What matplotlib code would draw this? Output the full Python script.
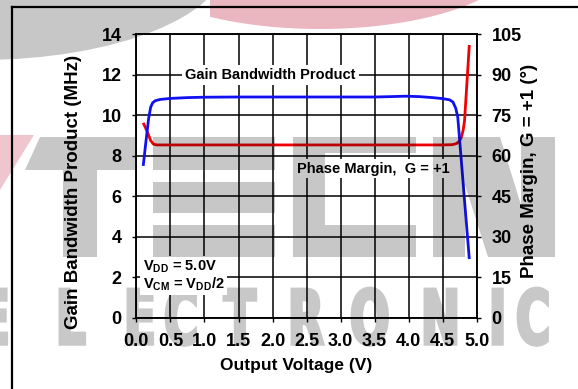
import numpy as np
import matplotlib
matplotlib.use("Agg")
import matplotlib.pyplot as plt
from matplotlib.path import Path
from matplotlib.patches import PathPatch, Polygon
from matplotlib.textpath import TextPath
from matplotlib.font_manager import FontProperties
from matplotlib.transforms import Affine2D
from matplotlib.lines import Line2D

# Gain bandwidth product vs output voltage (left axis, MHz)
vout_gbp = [0.10, 0.14, 0.18, 0.21, 0.24, 0.28, 0.35, 0.50, 0.75, 1.00, 1.50, 2.00,
            2.50, 3.00, 3.50, 3.75, 3.95, 4.15, 4.35, 4.50, 4.60, 4.65, 4.69, 4.72, 4.89]
gbp = [7.5, 8.7, 9.85, 10.4, 10.62, 10.72, 10.78, 10.83, 10.87, 10.89, 10.9, 10.9,
       10.9, 10.9, 10.9, 10.92, 10.94, 10.92, 10.87, 10.82, 10.76, 10.65, 10.35, 9.92, 2.9]

# Phase margin at G = +1 vs output voltage (right axis, degrees)
vout_pm = [0.10, 0.14, 0.18, 0.21, 0.25, 0.30, 0.50, 1.00, 2.00, 3.00, 4.00, 4.50,
           4.64, 4.70, 4.74, 4.77, 4.80, 4.82, 4.89]
phase = [72.2, 70.0, 67.6, 65.6, 64.3, 64.0, 64.0, 64.0, 64.0, 64.0, 64.0, 64.0,
         64.1, 64.5, 65.3, 66.6, 69.5, 73.0, 101.0]

x_ticks = np.arange(0, 5.01, 0.5)
gbp_ticks = np.arange(0, 15, 2)
pm_ticks = np.arange(0, 106, 15)

plt.rcParams["font.family"] = ["Liberation Sans", "DejaVu Sans"]
plt.rcParams["font.weight"] = "bold"
plt.rcParams["axes.labelweight"] = "bold"
plt.rcParams["mathtext.fontset"] = "custom"
plt.rcParams["mathtext.rm"] = "Liberation Sans:bold"
plt.rcParams["mathtext.bf"] = "Liberation Sans:bold"

W, H = 578, 389
fig = plt.figure(figsize=(W / 100, H / 100), dpi=100)
# pixel space, origin top-left
px = Affine2D().scale(1 / W, -1 / H).translate(0, 1) + fig.transFigure

# --- logo watermark: pink parts and lettering sit behind the chart ---
cx, cy, a, b = 320, -45, 200, 74
xs = np.linspace(210, 490, 80)
ys = cy + b * np.sqrt(np.clip(1 - ((xs - cx) / a) ** 2, 0, None))
swoosh = [(210, -5)] + list(zip(xs, ys)) + [(490, -5)]
fig.add_artist(Polygon(swoosh, closed=True, transform=px, facecolor="#eab6c0",
                       edgecolor="none", zorder=-2))
fig.add_artist(Polygon([(0, 135), (34, 135), (0, 190)], closed=True, transform=px,
                       facecolor="#f0c6ce", edgecolor="none", zorder=-2))

logo_font = FontProperties(family="DejaVu Sans", weight="bold")
letters = []
for ch, x0 in zip("ELECTRONIC", [-22, 56, 124, 164, 224, 288, 350, 421, 489, 516]):
    tp = TextPath((0, 0), ch, size=75, prop=logo_font)
    letters.append(tp.transformed(Affine2D().scale(0.62, -1).translate(x0, 344)))
fig.add_artist(PathPatch(Path.make_compound_path(*letters), transform=px,
                         facecolor="#c8c8c8", edgecolor="#c8c8c8", lw=2.5, zorder=-2))


def poly_path(pts):
    return Path(list(pts) + [pts[0]], closed=True)


def rect(x0, x1, y0, y1):
    return poly_path([(x0, y0), (x1, y0), (x1, y1), (x0, y1)])


gray_parts = [
    Path.unit_circle().transformed(Affine2D().scale(247, 100).translate(-20, -40)),
    poly_path([(40, 137), (135, 137), (135, 170), (25, 170)]),  # T bar
    rect(63, 97, 170, 257),                                       # T stem
    rect(153, 275, 137, 170), rect(153, 275, 182, 213), rect(153, 275, 225, 257),
    rect(293, 325, 137, 257), rect(325, 416, 137, 153), rect(325, 416, 225, 257),
    rect(433, 465, 137, 257), rect(521, 555, 137, 257),
    poly_path([(465, 137), (500, 137), (521, 205), (521, 257), (488, 257), (465, 185)]),
]
# black at low alpha darkens like a grey multiply layer
fig.add_artist(PathPatch(Path.make_compound_path(*gray_parts), transform=px,
                         facecolor="black", edgecolor="none", alpha=0.22, zorder=10))

# page frame
fig.add_artist(Line2D([11.5, W], [7.5, 7.5], transform=px, color="black", lw=1.6, zorder=5))
fig.add_artist(Line2D([11.5, 11.5], [7.5, H], transform=px, color="black", lw=1.6, zorder=5))

# --- chart ---
ax = fig.add_axes([136.4 / W, 1 - 317.8 / H, 340.4 / W, 283.6 / H])
axl = ax.twinx()
ax.yaxis.tick_right()
ax.yaxis.set_label_position("right")
axl.yaxis.tick_left()
axl.yaxis.set_label_position("left")
ax.patch.set_visible(False)
axl.patch.set_visible(False)

ax.plot(vout_pm, phase, color="#f00000", lw=2.0, solid_capstyle="butt")
axl.plot(vout_gbp, gbp, color="#1010f0", lw=2.0, solid_capstyle="butt")

ax.set_xlim(0, 5)
ax.set_ylim(0, 105)
axl.set_ylim(0, 14)
ax.set_xticks(x_ticks)
ax.set_xticklabels([f"{v:.1f}" for v in x_ticks])
ax.set_yticks(pm_ticks)
axl.set_yticks(gbp_ticks)
ax.grid(True, color="black", lw=1.1)

for axis in (ax, axl):
    axis.tick_params(direction="out", length=3.2, width=1.0, pad=7.5, labelsize=13)
    for sp in axis.spines.values():
        sp.set_linewidth(1.1)

ax.set_xlabel("Output Voltage (V)", fontsize=12.5)
ax.xaxis.set_label_coords(0.469, -0.168)
ax.xaxis.label.set_va("center")
axl.set_ylabel("Gain Bandwidth Product (MHz)", fontsize=13.5)
axl.yaxis.set_label_coords(-0.186, 0.444)
ax.set_ylabel("Phase Margin, G = +1 (°)", fontsize=13.5)
ax.yaxis.set_label_coords(1.156, 0.518)
for lab in (axl.yaxis.label, ax.yaxis.label):
    lab.set_va("center")
    lab.set_ha("center")

box = dict(facecolor="white", edgecolor="none", boxstyle="square,pad=0.2")
axl.text(1.97, 12, "Gain Bandwidth Product", ha="center", va="center",
         fontsize=10.5, bbox=box)
axl.text(3.48, 7.37, "Phase Margin,  G = +1", ha="center", va="center",
         fontsize=10.5, bbox=box)
axl.text(0.09, 2.08, "V$_{\\mathrm{DD}}$ = 5.0V\nV$_{\\mathrm{CM}}$ = V$_{\\mathrm{DD}}$/2",
         ha="left", va="center", fontsize=10.5, linespacing=0.95, bbox=box)

fig.savefig("out.png", dpi=100)
